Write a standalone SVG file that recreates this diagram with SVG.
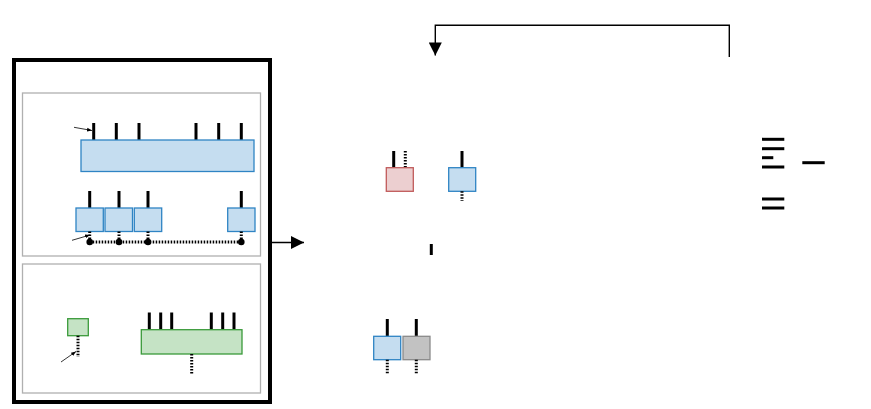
<svg xmlns="http://www.w3.org/2000/svg" width="871" height="409" viewBox="0 0 871 409">
<style>
.pin{stroke:#000;stroke-width:3;fill:none}
.dpin{stroke:#000;stroke-width:3;stroke-dasharray:1.5 1.5;fill:none}
.blue{fill:#c5ddf0;stroke:#2f84c4;stroke-width:1.3}
.green{fill:#c5e3c5;stroke:#3a9a3a;stroke-width:1.3}
.pink{fill:#eccfd0;stroke:#c05a5a;stroke-width:1.3}
.grey{fill:#c2c2c2;stroke:#8a8a8a;stroke-width:1.3}
.panel{fill:none;stroke:#b0b0b0;stroke-width:1.3}
.thin{stroke:#000;stroke-width:0.8;fill:none}
.bar{stroke:#000;stroke-width:3}
</style>
<defs>
<marker id="ah" viewBox="0 0 10 10" refX="10" refY="5" markerWidth="10" markerHeight="10" markerUnits="userSpaceOnUse" orient="auto"><path d="M0,1 L10,5 L0,9 z" fill="#000"/></marker>
<marker id="ahs" viewBox="0 0 10 10" refX="10" refY="5" markerWidth="5" markerHeight="5" markerUnits="userSpaceOnUse" orient="auto"><path d="M0,1 L10,5 L0,9 z" fill="#000"/></marker>
<marker id="ahb" viewBox="0 0 10 10" refX="10" refY="5" markerWidth="15" markerHeight="13" markerUnits="userSpaceOnUse" orient="auto"><path d="M0,0 L10,5 L0,10 z" fill="#000"/></marker>
</defs>
<rect width="871" height="409" fill="#fff"/>

<g id="frame">
<rect x="14" y="60" width="256" height="342" fill="none" stroke="#000" stroke-width="4"/>
</g>

<g id="panel-top">
<rect class="panel" x="22.5" y="93" width="238" height="163"/>
</g>
<g id="panel-bottom">
<rect class="panel" x="22.5" y="264" width="238" height="129"/>
</g>

<g id="bus-block">
<line class="pin" x1="93.7" y1="123" x2="93.7" y2="140"/>
<line class="pin" x1="116.3" y1="123" x2="116.3" y2="140"/>
<line class="pin" x1="139" y1="123" x2="139" y2="140"/>
<line class="pin" x1="196" y1="123" x2="196" y2="140"/>
<line class="pin" x1="218.7" y1="123" x2="218.7" y2="140"/>
<line class="pin" x1="241.3" y1="123" x2="241.3" y2="140"/>
<rect class="blue" x="81" y="140" width="173" height="31.5"/>
</g>

<g id="cell-1">
<line class="pin" x1="89.7" y1="191" x2="89.7" y2="208"/>
<rect class="blue" x="76" y="208" width="27.3" height="23.5"/>
<line class="dpin" x1="89.7" y1="231.5" x2="89.7" y2="242"/>
</g>
<g id="cell-2">
<line class="pin" x1="119" y1="191" x2="119" y2="208"/>
<rect class="blue" x="105" y="208" width="27.5" height="23.5"/>
<line class="dpin" x1="119" y1="231.5" x2="119" y2="242"/>
</g>
<g id="cell-3">
<line class="pin" x1="148" y1="191" x2="148" y2="208"/>
<rect class="blue" x="134.3" y="208" width="27.4" height="23.5"/>
<line class="dpin" x1="148" y1="231.5" x2="148" y2="242"/>
</g>
<g id="cell-4">
<line class="pin" x1="241.3" y1="191" x2="241.3" y2="208"/>
<rect class="blue" x="227.7" y="208" width="27.3" height="23.5"/>
<line class="dpin" x1="241.3" y1="231.5" x2="241.3" y2="242"/>
</g>

<g id="small-green">
<rect class="green" x="67.7" y="318.7" width="20.6" height="17"/>
<line class="dpin" x1="78" y1="335.7" x2="78" y2="357"/>
</g>

<g id="green-block">
<line class="pin" x1="149.3" y1="312.5" x2="149.3" y2="329.7"/>
<line class="pin" x1="160.7" y1="312.5" x2="160.7" y2="329.7"/>
<line class="pin" x1="171.7" y1="312.5" x2="171.7" y2="329.7"/>
<line class="pin" x1="211.3" y1="312.5" x2="211.3" y2="329.7"/>
<line class="pin" x1="222.7" y1="312.5" x2="222.7" y2="329.7"/>
<line class="pin" x1="234" y1="312.5" x2="234" y2="329.7"/>
<rect class="green" x="141.3" y="329.7" width="100.7" height="24.3"/>
<line class="dpin" x1="191.7" y1="354" x2="191.7" y2="374.5"/>
</g>

<g id="pink-cell">
<line class="pin" x1="393.7" y1="151" x2="393.7" y2="167.7"/>
<line class="dpin" x1="405.3" y1="151" x2="405.3" y2="167.7"/>
<rect class="pink" x="386.3" y="167.7" width="27" height="23.6"/>
</g>

<g id="blue-cell">
<line class="pin" x1="462" y1="151" x2="462" y2="167.7"/>
<rect class="blue" x="448.7" y="167.7" width="27" height="23.6"/>
<line class="dpin" x1="462" y1="191.3" x2="462" y2="201"/>
</g>

<g id="mark">
<line class="pin" x1="431.3" y1="244" x2="431.3" y2="255"/>
</g>

<g id="blue-cell-2">
<line class="pin" x1="387.3" y1="319" x2="387.3" y2="336.3"/>
<rect class="blue" x="373.7" y="336.3" width="27" height="23.4"/>
<line class="dpin" x1="387.3" y1="359.7" x2="387.3" y2="374"/>
</g>
<g id="grey-cell">
<line class="pin" x1="416.3" y1="319" x2="416.3" y2="336.3"/>
<rect class="grey" x="403" y="336.3" width="27" height="23.4"/>
<line class="dpin" x1="416.3" y1="359.7" x2="416.3" y2="374"/>
</g>

<g id="legend-bars">
<line class="bar" x1="762" y1="139.3" x2="784.3" y2="139.3"/>
<line class="bar" x1="762" y1="148.7" x2="784.3" y2="148.7"/>
<line class="bar" x1="762" y1="157.7" x2="773.3" y2="157.7"/>
<line class="bar" x1="762" y1="167" x2="784.3" y2="167"/>
<line class="bar" x1="802.3" y1="162.7" x2="824.7" y2="162.7"/>
<line class="bar" x1="762" y1="199" x2="784.3" y2="199"/>
<line class="bar" x1="762" y1="208" x2="784.3" y2="208"/>
</g>

<g id="connectors">
<line class="dpin" x1="89.7" y1="242" x2="241.3" y2="242"/>
<circle cx="89.7" cy="242" r="3.3" fill="#000"/>
<circle cx="119" cy="242" r="3.3" fill="#000"/>
<circle cx="148" cy="242" r="3.3" fill="#000"/>
<circle cx="241.3" cy="242" r="3.3" fill="#000"/>
<line class="thin" x1="74" y1="127.3" x2="92" y2="130.5" marker-end="url(#ahs)"/>
<line class="thin" x1="72" y1="240.3" x2="90" y2="235" marker-end="url(#ahs)"/>
<line class="thin" x1="61" y1="362" x2="76" y2="351.5" marker-end="url(#ahs)"/>
<line x1="270" y1="242.5" x2="304" y2="242.5" stroke="#000" stroke-width="1.5" marker-end="url(#ahb)"/>
<path d="M729.3,57 V25.3 H435.3 V55.5" fill="none" stroke="#000" stroke-width="1.4" marker-end="url(#ahb)"/>
</g>
</svg>
